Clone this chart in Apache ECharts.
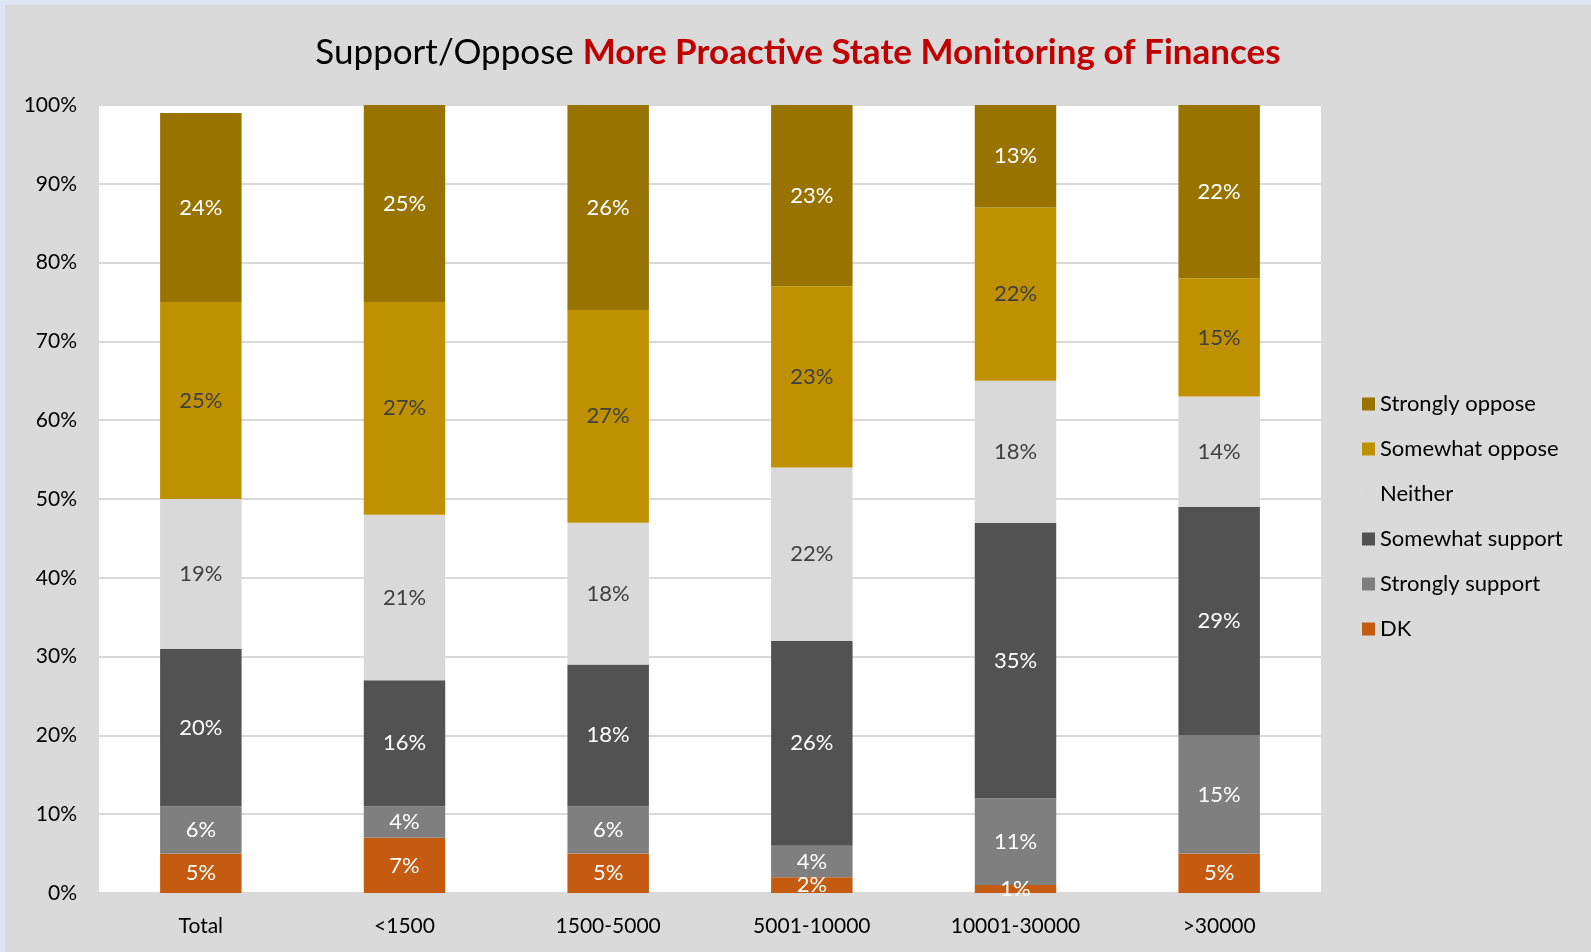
<!DOCTYPE html>
<html>
<head>
<meta charset="utf-8">
<script src="https://cdn.jsdelivr.net/npm/echarts@6/dist/echarts.min.js"></script>
<style>
  html, body { margin: 0; padding: 0; width: 100%; height: 100%; background: #dde6f2; overflow: hidden; }
  #chart { position: absolute; left: 5px; top: 5px; right: 0; bottom: 0; background: #dadada; }
</style>
</head>
<body>
<div id="chart"></div>
<script>
const categories = ['Total', '<1500', '1500-5000', '5001-10000', '10001-30000', '>30000']
const yTicks = { min: 0, max: 100, interval: 10 }

// stacked from the bottom up
const dk = [5, 7, 5, 2, 1, 5]
const stronglySupport = [6, 4, 6, 4, 11, 15]
const somewhatSupport = [20, 16, 18, 26, 35, 29]
const neither = [19, 21, 18, 22, 18, 14]
const somewhatOppose = [25, 27, 27, 23, 22, 15]
const stronglyOppose = [24, 25, 26, 23, 13, 22]

const font = 'Lato, "Open Sans", sans-serif'

const makeSeries = (name, data, color, labelColor) => ({
  name: name,
  type: 'bar',
  stack: 'all',
  barWidth: '40%',
  data: data,
  itemStyle: { color: color },
  label: {
    show: true,
    position: 'inside',
    formatter: '{c}%',
    color: labelColor,
    fontSize: 22,
    fontFamily: font
  }
})

const chart = echarts.init(document.getElementById('chart'))
const option = {
  animation: false,
  title: {
    left: 'center',
    top: 25,
    text: '{a|Support/Oppose }{b|More Proactive State Monitoring of Finances}',
    textStyle: {
      fontWeight: 'normal',
      rich: {
        a: { fontSize: 35, color: '#000', fontWeight: 'normal', fontFamily: font },
        b: { fontSize: 35, color: '#c00000', fontWeight: 'bold', fontFamily: font }
      }
    }
  },
  grid: {
    left: 94,
    right: 270,
    top: 100,
    bottom: 59,
    show: true,
    backgroundColor: '#ffffff',
    borderWidth: 0
  },
  legend: {
    orient: 'vertical',
    left: 1352,
    top: 383,
    itemGap: 23,
    itemWidth: 13,
    itemHeight: 13,
    icon: 'rect',
    textStyle: { fontSize: 22, color: '#000', fontFamily: font },
    data: ['Strongly oppose', 'Somewhat oppose', 'Neither', 'Somewhat support', 'Strongly support', 'DK']
  },
  xAxis: {
    type: 'category',
    data: categories,
    axisLine: { show: true, lineStyle: { color: '#d9d9d9', width: 2 } },
    axisTick: { show: false },
    axisLabel: { fontSize: 21, color: '#000', fontFamily: font, margin: 23 }
  },
  yAxis: {
    type: 'value',
    min: yTicks.min,
    max: yTicks.max,
    interval: yTicks.interval,
    axisLine: { show: false },
    axisTick: { show: false },
    axisLabel: { formatter: '{value}%', fontSize: 21, color: '#000', fontFamily: font, margin: 22 },
    splitLine: { lineStyle: { color: '#d9d9d9', width: 2 } }
  },
  series: [
    makeSeries('DK', dk, '#c55a11', '#ffffff'),
    makeSeries('Strongly support', stronglySupport, '#7f7f7f', '#ffffff'),
    makeSeries('Somewhat support', somewhatSupport, '#525252', '#ffffff'),
    makeSeries('Neither', neither, '#d9d9d9', '#404040'),
    makeSeries('Somewhat oppose', somewhatOppose, '#bf9000', '#404040'),
    makeSeries('Strongly oppose', stronglyOppose, '#997300', '#ffffff')
  ]
}
chart.setOption(option)
</script>
</body>
</html>
